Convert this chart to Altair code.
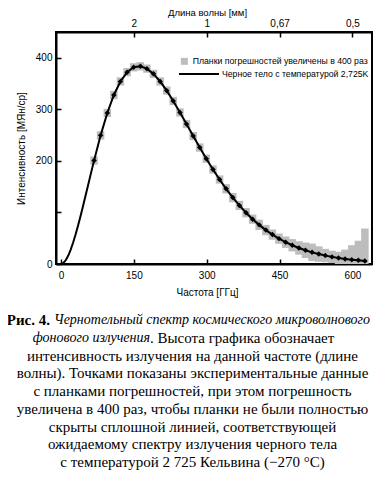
import altair as alt
import pandas as pd

# ---------------- data ----------------
freq = [68.05, 81.54, 95.33, 108.82, 122.31, 136.10, 149.60, 163.39, 176.88, 190.37,
        204.16, 217.65, 231.14, 244.93, 258.42, 272.21, 285.70, 299.19, 312.98, 326.47,
        339.96, 353.75, 367.24, 381.03, 394.52, 408.01, 421.80, 435.29, 448.79, 462.58,
        476.07, 489.86, 503.35, 516.84, 530.63, 544.12, 557.91, 571.40, 584.89, 598.68,
        612.17, 625.66]
intensity = [200.7, 249.5, 293.0, 327.8, 354.1, 372.1, 381.5, 383.5, 378.9, 368.8,
             354.1, 336.3, 316.1, 293.9, 271.4, 248.2, 225.9, 204.3, 183.3, 163.8,
             145.8, 128.8, 113.6, 99.5, 87.0, 75.9, 65.8, 57.0, 49.2, 42.3,
             36.4, 31.1, 26.6, 22.6, 19.3, 16.4, 13.8, 11.7, 9.9, 8.4,
             7.1, 5.8]
# half-height of the gray (x400) error boxes
err = [8, 8, 8, 8, 8, 8, 8, 8, 8, 8,
       8, 8, 8, 8, 8, 8, 8, 8, 8, 8,
       9, 9, 9, 9, 9, 10, 10, 10, 10, 11,
       12, 13, 15, 17, 15, 13, 12, 12, 18, 28,
       38, 63]

curve_freq = [0, 5, 10, 15, 20, 25, 30, 35, 40, 45, 50, 55, 60, 65,
              68.05, 81.54, 95.33, 108.82, 122.31, 136.10, 149.60, 163.39, 176.88, 190.37,
              204.16, 217.65, 231.14, 244.93, 258.42, 272.21, 285.70, 299.19, 312.98, 326.47,
              339.96, 353.75, 367.24, 381.03, 394.52, 408.01, 421.80, 435.29, 448.79, 462.58,
              476.07, 489.86, 503.35, 516.84, 530.63, 544.12, 557.91, 571.40, 584.89, 598.68,
              612.17, 625.66, 630]
curve_val = [0, 2.0, 7.7, 16.4, 27.9, 41.6, 57.1, 74.1, 92.2, 111.0, 130.4, 150.0, 169.5, 188.9,
             200.5, 249.5, 293.0, 327.8, 354.1, 372.1, 381.5, 383.5, 378.9, 368.8,
             354.1, 336.3, 316.1, 293.9, 271.4, 248.2, 225.9, 204.3, 183.3, 163.8,
             145.8, 128.8, 113.6, 99.5, 87.0, 75.9, 65.8, 57.0, 49.2, 42.3,
             36.4, 31.1, 26.6, 22.6, 19.3, 16.4, 13.8, 11.7, 9.9, 8.4,
             7.1, 5.8, 5.4]

x_ticks = [0, 150, 300, 450, 600]
top_ticks = [150, 300, 450, 600]
top_labels = ["2", "1", "0,67", "0,5"]
y_ticks = [0, 100, 200, 300, 400]
y_labeled = [0, 200, 300, 400]

legend_err = ["Планки погрешностей увеличены в 400 раз"]
legend_bb = ["Черное тело с температурой 2,725K"]

x_title = "Частота [ГГц]"
top_title = "Длина волны [мм]"
y_title = "Интенсивность [МЯн/ср]"

cap1_bold = "Рис. 4."
cap1_ital = "Чернотельный спектр космического микроволнового"
cap2_ital = "фонового излучения"
cap2_rest = ". Высота графика обозначает"
cap_rest = [
    "интенсивность излучения на данной частоте (длине",
    "волны). Точками показаны экспериментальные данные",
    "с планками погрешностей, при этом погрешность",
    "увеличена в 400 раз, чтобы планки не были полностью",
    "скрыты сплошной линией, соответствующей",
    "ожидаемому спектру излучения черного тела",
    "с температурой 2 725 Кельвина (−270 °C)",
]

# ---------------- chart ----------------
SANS = "Liberation Sans"
SERIF = "Liberation Serif"
W, H = 316, 232

pts = pd.DataFrame({"f": freq, "v": intensity, "e": err, "lbl": legend_err * len(freq)})
crv = pd.DataFrame({"f": curve_freq, "v": curve_val, "lbl": legend_bb * len(curve_freq)})

xscale = alt.Scale(domain=[0, 630], nice=False, zero=False)
yscale = alt.Scale(domain=[0, 450], nice=False)

top_expr = " : ".join(f"datum.value == {v} ? '{l}'" for v, l in zip(top_ticks, top_labels)) + " : ''"
y_expr = "indexof([" + ",".join(str(v) for v in y_labeled) + "], datum.value) >= 0 ? datum.label : ''"

axis_common = dict(domainColor="black", domainWidth=2, tickColor="black", tickWidth=1.5,
                   tickSize={"expr": "-5"}, labelColor="black", labelFont=SANS,
                   labelFontSize=10, labelFlush=False, titleFont=SANS,
                   titleFontWeight="normal", titleColor="black", grid=False)

bottom_axis = alt.Axis(orient="bottom", values=x_ticks, title=x_title, labelPadding=11,
                       labelBaseline="top", labelAlign="center", titleFontSize=10,
                       titleX=151, titleY=28, titleBaseline="middle",
                       titleAlign="center", **axis_common)
top_axis = alt.Axis(orient="top", values=top_ticks, labelExpr=top_expr, title=top_title,
                    labelPadding=9, labelBaseline="bottom", labelAlign="center",
                    titleFontSize=9.5, titleX=151, titleY=-19.5, titleBaseline="middle",
                    titleAlign="center", **axis_common)
left_axis = alt.Axis(orient="left", values=y_ticks, labelExpr=y_expr, title=y_title,
                     labelPadding=9, labelBaseline="middle", labelAlign="right",
                     titleFontSize=10, titleX=-35, titleY=116, titleAngle=270,
                     titleBaseline="middle", titleAlign="center", **axis_common)

leg_common = dict(orient="none", title=None, labelFont=SANS, labelFontSize=8.7,
                  labelColor="black", labelLimit=0, padding=0)

bars = alt.Chart(pts).transform_calculate(
    lo="max(0, datum.v - datum.e)", hi="datum.v + datum.e"
).mark_bar(width=7.5, clip=True).encode(
    x=alt.X("f:Q", scale=xscale, axis=None),
    y=alt.Y("lo:Q", scale=yscale, axis=left_axis),
    y2="hi:Q",
    fill=alt.Fill("lbl:N", scale=alt.Scale(range=["#bdbdbd"]),
                  legend=alt.Legend(legendX=124, legendY=25, symbolType="square",
                                    symbolSize=49, symbolStrokeWidth=0, labelOffset=4,
                                    **leg_common)),
)

line = alt.Chart(crv).mark_line(strokeWidth=2, clip=True).encode(
    x=alt.X("f:Q", scale=xscale, axis=bottom_axis),
    y=alt.Y("v:Q", scale=yscale),
    stroke=alt.Stroke("lbl:N", scale=alt.Scale(range=["black"]),
                      legend=alt.Legend(legendX=122, legendY=21, symbolType="stroke",
                                        symbolSize=1600, symbolStrokeWidth=2,
                                        labelOffset=2, **leg_common)),
)

dots = alt.Chart(pts).mark_point(shape="diamond", filled=True, color="black", size=30,
                                 opacity=1, clip=True).encode(
    x=alt.X("f:Q", scale=xscale, axis=top_axis),
    y=alt.Y("v:Q", scale=yscale),
)


def txt(s, x, y, align="center", style="normal", weight="normal", size=15):
    return alt.Chart(pd.DataFrame({"t": [s]})).mark_text(
        font=SERIF, fontSize=size, fontStyle=style, fontWeight=weight, color="black",
        align=align, baseline="middle"
    ).encode(text="t:N", x=alt.value(x), y=alt.value(y))


CX = 192.5 - 56
Y0 = 320 - 32
STEP = 17.75
cap_layers = [
    txt(cap1_bold, 50 - 56, Y0, align="right", weight="bold"),
    txt(cap1_ital, 54 - 56, Y0, align="left", style="italic", size=14),
    txt(cap2_ital, 150 - 56, Y0 + STEP, align="right", style="italic", size=14),
    txt(cap2_rest, 150 - 56, Y0 + STEP, align="left"),
]
for i, s in enumerate(cap_rest):
    cap_layers.append(txt(s, CX, Y0 + STEP * (i + 2)))

chart = alt.layer(bars, line, dots, *cap_layers).resolve_axis(x="independent").properties(
    width=W, height=H,
    autosize=alt.AutoSizeParams(type="none"),
    padding={"left": 48, "top": 24, "right": 5, "bottom": 208},
).configure_view(stroke="black", strokeWidth=2)

chart.save("out.html", embed_options={"renderer": "svg", "actions": False})
